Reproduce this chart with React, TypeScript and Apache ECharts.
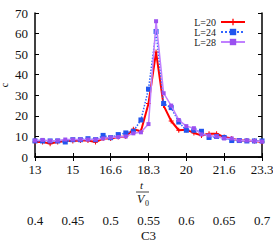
import React, { useEffect, useRef } from "react";
import * as echarts from "echarts";

const c3 = [0.40,0.41,0.42,0.43,0.44,0.45,0.46,0.47,0.48,0.49,0.50,0.51,0.52,0.53,0.54,0.55,0.56,0.57,0.58,0.59,0.60,0.61,0.62,0.63,0.64,0.65,0.66,0.67,0.68,0.69,0.70];
const l20 = [7.3,7.3,6.5,7.3,7.8,7.8,8,8,7.3,9,9,9.7,10,13.5,12.5,26,51,25,17.5,13,13.3,11.7,10.5,11.3,11.3,9.7,9,8,8,7.8,7.3];
const l24 = [7.8,7.8,7.8,7.8,7.3,8.4,8.4,8.9,8.4,10.5,9.4,10.9,11.7,12.5,18,33,61,26,24,17,13,13,12.5,9.5,10,9.5,8,8,7.8,7.8,7.8];
const l28 = [8,8.3,7.8,8,8.5,8.5,8.5,8.5,8.5,9,9.5,9.7,10,11.5,12,16,66,31,25,18,15,14,11,10.5,10,9,9,8,8,7.8,7.5];
const tLabels = ["13","15","16.6","18.3","20","21.6","23.3"];
const c3Labels = ["0.4","0.45","0.5","0.55","0.6","0.65","0.7"];
const seriesNames = ["L=20","L=24","L=28"];

const FONT = "'Liberation Serif', 'DejaVu Serif', serif";

export default function App() {
  const ref = useRef<HTMLDivElement>(null);
  useEffect(() => {
    if (!ref.current) return;
    const chart = echarts.init(ref.current, undefined, { renderer: "svg" });
    const toPairs = (arr: number[]) => c3.map((x, i) => [x, arr[i]]);
    const axisLine = { lineStyle: { color: "#000", width: 1.5 } };
    chart.setOption({
      animation: false,
      backgroundColor: "#fff",
      textStyle: { fontFamily: FONT },
      grid: { left: 35, right: 11, top: 13, bottom: 87, containLabel: false, outerBoundsMode: "none" },
      legend: {
        orient: "vertical",
        right: 22,
        top: 12,
        align: "right",
        itemGap: 0,
        itemWidth: 24,
        itemHeight: 8,
        textStyle: { fontFamily: FONT, fontSize: 10, color: "#222", lineHeight: 10, padding: [0, 0, 0, 0] },
        data: seriesNames,
      },
      xAxis: [
        {
          type: "value", min: 0.4, max: 0.7, interval: 0.05, position: "bottom",
          axisLine, axisTick: { inside: true, length: 4, lineStyle: { color: "#000" } },
          splitLine: { show: false },
          axisLabel: { fontFamily: FONT, fontSize: 13, color: "#111", margin: 6, formatter: (_v: number, i: number) => tLabels[i] },
        },
        {
          type: "value", min: 0.4, max: 0.7, interval: 0.05, position: "top",
          axisLine, axisTick: { inside: true, length: 4, lineStyle: { color: "#000" } },
          splitLine: { show: false }, axisLabel: { show: false },
        },
        {
          type: "value", min: 0.4, max: 0.7, interval: 0.05, position: "bottom", offset: 51,
          axisLine: { show: false }, axisTick: { show: false }, splitLine: { show: false },
          axisLabel: { fontFamily: FONT, fontSize: 13, color: "#111", margin: 6, formatter: (_v: number, i: number) => c3Labels[i] },
          name: "C3", nameLocation: "middle", nameGap: 21, nameMoveOverlap: false,
          nameTextStyle: { fontFamily: FONT, fontSize: 13, color: "#111" },
        },
      ],
      yAxis: [
        {
          type: "value", min: 0, max: 70, interval: 10, position: "left",
          axisLine, axisTick: { inside: true, length: 4, lineStyle: { color: "#000" } },
          splitLine: { show: false },
          axisLabel: { fontFamily: FONT, fontSize: 13, color: "#111", margin: 7 },
          name: "c", nameLocation: "middle", nameGap: 26, nameMoveOverlap: false,
          nameTextStyle: { fontFamily: FONT, fontSize: 10, color: "#111" },
        },
        {
          type: "value", min: 0, max: 70, interval: 10, position: "right",
          axisLine, axisTick: { inside: true, length: 4, lineStyle: { color: "#000" } },
          splitLine: { show: false }, axisLabel: { show: false },
        },
      ],
      graphic: [
        { type: "text", left: 140, top: 179, style: { text: "t", fontFamily: FONT, fontStyle: "italic", fontSize: 11, fill: "#111" } },
        { type: "line", shape: { x1: 136, y1: 192, x2: 149, y2: 192 }, style: { stroke: "#111", lineWidth: 0.8 } },
        { type: "text", left: 137, top: 193, style: { text: "V", fontFamily: FONT, fontStyle: "italic", fontSize: 12, fill: "#111" } },
        { type: "text", left: 145, top: 199, style: { text: "0", fontFamily: FONT, fontSize: 8, fill: "#111" } },
      ],
      series: [
        {
          name: "L=20", type: "line", xAxisIndex: 0, yAxisIndex: 0, data: toPairs(l20),
          lineStyle: { color: "#ff0000", width: 2 }, itemStyle: { color: "#ff0000" },
          symbol: "path://M4,0H6V4H10V6H6V10H4V6H0V4H4Z", symbolSize: 5, z: 3,
        },
        {
          name: "L=24", type: "line", xAxisIndex: 0, yAxisIndex: 0, data: toPairs(l24),
          lineStyle: { color: "#3366ff", width: 1.5, type: "dotted" }, itemStyle: { color: "#2255ee" },
          symbol: "rect", symbolSize: 5, z: 4,
        },
        {
          name: "L=28", type: "line", xAxisIndex: 0, yAxisIndex: 0, data: toPairs(l28),
          lineStyle: { color: "#c080ff", width: 1.5 }, itemStyle: { color: "#9a50f0" },
          symbol: "rect", symbolSize: 4, z: 5,
        },
      ],
    });
    return () => chart.dispose();
  }, []);
  return <div ref={ref} style={{ position: "absolute", left: 0, top: 0, width: 273, height: 244 }} />;
}
